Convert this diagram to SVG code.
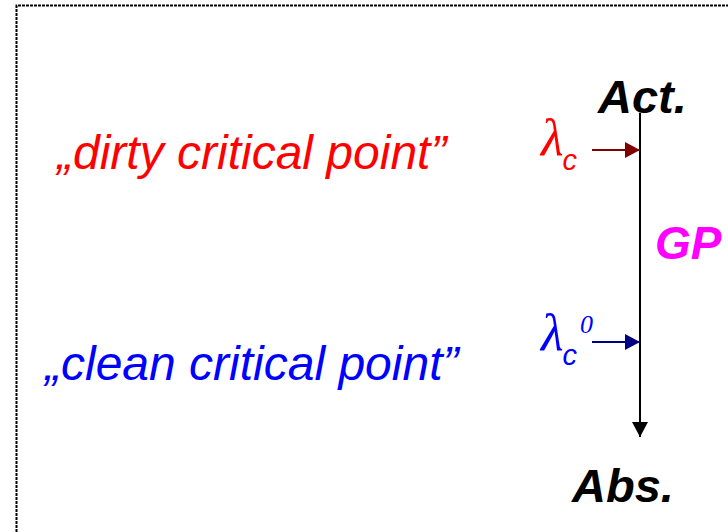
<svg xmlns="http://www.w3.org/2000/svg" width="728" height="532" viewBox="0 0 728 532">
<defs>
<style>
.lbl{font-family:"Liberation Sans",Arial,sans-serif;font-style:italic}
.bold{font-weight:bold}
.sym{font-family:"Liberation Serif","DejaVu Serif",serif;font-style:italic}
</style>
<marker id="mk" markerUnits="userSpaceOnUse" markerWidth="16" markerHeight="16" refX="15" refY="8" orient="auto"><path d="M0,0 L15,8 L0,16 Z" fill="#000"/></marker>
<marker id="mr" markerUnits="userSpaceOnUse" markerWidth="16" markerHeight="16" refX="15" refY="8" orient="auto"><path d="M0,0 L15,8 L0,16 Z" fill="#800000"/></marker>
<marker id="mb" markerUnits="userSpaceOnUse" markerWidth="16" markerHeight="16" refX="15" refY="8" orient="auto"><path d="M0,0 L15,8 L0,16 Z" fill="#000080"/></marker>
</defs>
<rect width="728" height="532" fill="#fff"/>
<path d="M16.5,540 V5.5 H740" fill="none" stroke="#000" stroke-width="2" stroke-dasharray="3 1"/>
<g id="connectors">
<line x1="640" y1="113" x2="640" y2="437" stroke="#000" stroke-width="2" marker-end="url(#mk)"/>
<line x1="592" y1="150" x2="640" y2="150" stroke="#800000" stroke-width="2" marker-end="url(#mr)"/>
<line x1="592" y1="342" x2="640" y2="342" stroke="#000080" stroke-width="2" marker-end="url(#mb)"/>
</g>
<g id="act"><text class="lbl bold" x="598" y="113" font-size="47" fill="#000">Act.</text></g>
<g id="abs"><text class="lbl bold" x="572" y="502" font-size="47" fill="#000">Abs.</text></g>
<g id="gp"><text class="lbl bold" x="655" y="259" font-size="46" fill="#ff00ff">GP</text></g>
<g id="dirty"><text class="lbl" x="57" y="169" font-size="48" fill="#ff0000">„dirty critical point”</text></g>
<g id="clean"><text class="lbl" x="45" y="380" font-size="48" fill="#0000ff">„clean critical point”</text></g>
<g id="lc"><text x="541" y="155" fill="#ff0000"><tspan class="sym" font-size="52">λ</tspan><tspan class="lbl" font-size="29" dx="-1" dy="15">c</tspan></text></g>
<g id="lc0"><text x="541" y="350" fill="#0000ff"><tspan class="sym" font-size="52">λ</tspan><tspan class="lbl" font-size="29" dx="-1" dy="15">c</tspan><tspan class="sym" font-size="26" dx="3" dy="-32">0</tspan></text></g>
</svg>
